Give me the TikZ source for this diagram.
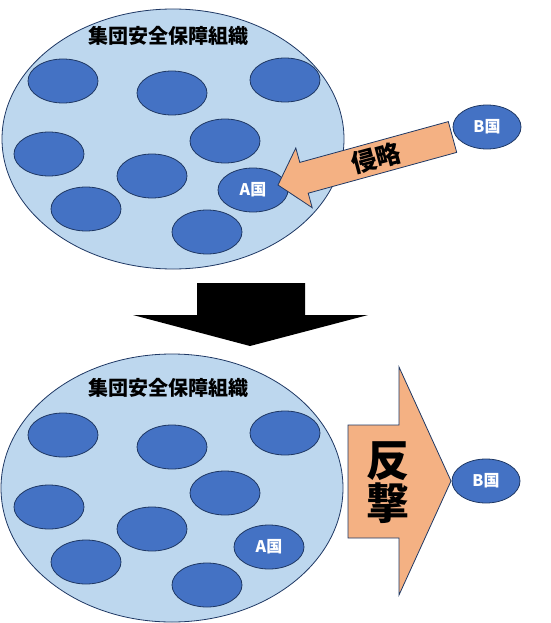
\documentclass[tikz,border=0pt]{standalone}
\usepackage{fontspec}
\setmainfont{Noto Sans CJK JP}
\usetikzlibrary{shapes.geometric}
\definecolor{orgfill}{HTML}{BDD7EE}
\definecolor{cfill}{HTML}{4472C4}
\definecolor{edge}{HTML}{1F3864}
\definecolor{arrowfill}{HTML}{F4B183}
\tikzset{
  org/.style={ellipse, draw=edge, line width=0.8pt, fill=orgfill, inner sep=0pt, minimum width=342pt},
  country/.style={ellipse, draw=edge, line width=0.8pt, fill=cfill, inner sep=0pt, minimum width=70pt, minimum height=44pt, text=white, font=\fontsize{16}{18}\selectfont\bfseries},
  title/.style={font=\fontsize{20}{24}\selectfont\bfseries, text=black},
  blockarrow/.style={draw=edge, line width=0.8pt, fill=arrowfill},
}
\begin{document}
\begin{tikzpicture}[x=1pt,y=-1pt]
\useasboundingbox (0,0) rectangle (550,623);
% ---------- top panel ----------
\node[org, minimum height=260pt] (org1) at (173,139) {};
\node[title] (t1) at (168,36) {集団安全保障組織};
\node[country] (c11) at (63,81) {};
\node[country] (c12) at (172,93) {};
\node[country] (c13) at (285,80) {};
\node[country] (c14) at (225,141) {};
\node[country] (c15) at (49,154) {};
\node[country] (c16) at (152,176) {};
\node[country] (c17) at (86,209) {};
\node[country] (c18) at (207,232) {};
\node[country] (a1) at (253,190) {A国};
\node[country, minimum width=68pt] (b1) at (487,127) {B国};
% invasion arrow
\draw[blockarrow] (448.3,121.6) -- (456.7,152.4) -- (308.2,193.2) -- (312.2,207.7)
  -- (278,185) -- (295.8,148) -- (299.8,162.4) -- cycle;
\node[font=\fontsize{25}{28}\selectfont\bfseries, rotate=15, inner sep=0pt] (inv) at (376,158) {侵略};
% ---------- transition arrow ----------
\fill[black] (197,283) -- (305,283) -- (305,315) -- (368,315) -- (250,346) -- (133,315) -- (197,315) -- cycle;
% ---------- bottom panel ----------
\node[org, minimum height=268pt] (org2) at (172,488) {};
\node[title] (t2) at (168,388) {集団安全保障組織};
\node[country] (c21) at (63,435) {};
\node[country] (c22) at (172,447) {};
\node[country] (c23) at (285,433) {};
\node[country] (c24) at (225,493) {};
\node[country] (c25) at (49,507) {};
\node[country] (c26) at (152,529) {};
\node[country] (c27) at (86,562) {};
\node[country] (c28) at (207,585) {};
\node[country] (a2) at (269,547) {A国};
\node[country, minimum width=68pt] (b2) at (486,481) {B国};
% counter-attack arrow
\draw[blockarrow] (348,425) -- (399,425) -- (399,367) -- (451,481) -- (399,595) -- (399,538) -- (348,538) -- cycle;
\node[font=\fontsize{43}{47}\selectfont\bfseries, align=center, inner sep=0pt] (ctr) at (388,483) {反\\[-4pt]撃};
\end{tikzpicture}
\end{document}
